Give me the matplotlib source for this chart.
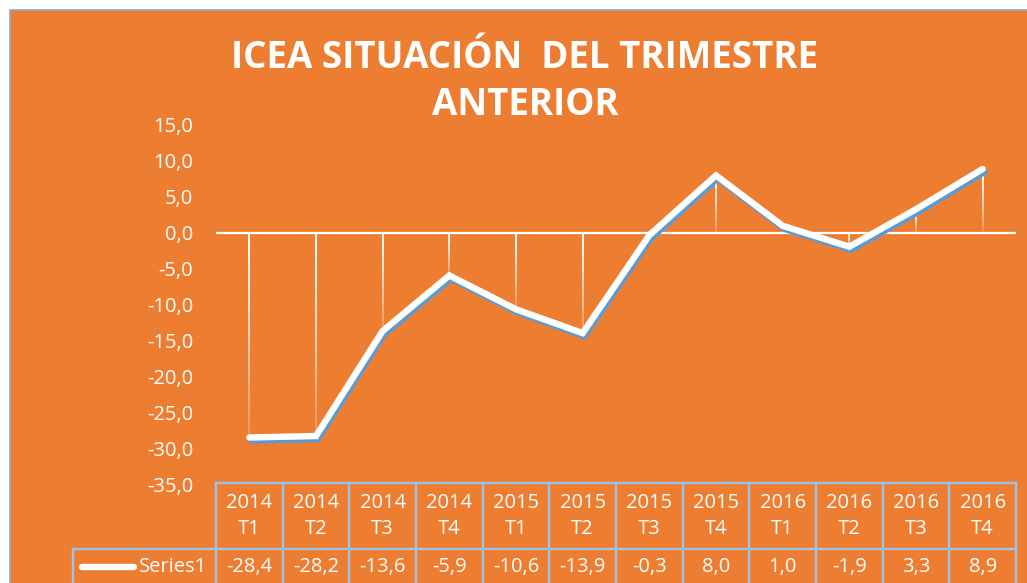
import matplotlib
matplotlib.use("Agg")
import matplotlib.pyplot as plt
import matplotlib.patheffects as pe
import matplotlib.transforms as mtransforms
from matplotlib.patches import Rectangle
from matplotlib.lines import Line2D
from matplotlib.collections import LineCollection
import numpy as np

# ---- data ----
years = ["2014", "2014", "2014", "2014", "2015", "2015", "2015", "2015",
         "2016", "2016", "2016", "2016"]
quarters = ["T1", "T2", "T3", "T4", "T1", "T2", "T3", "T4",
            "T1", "T2", "T3", "T4"]
values = [-28.4, -28.2, -13.6, -5.9, -10.6, -13.9, -0.3, 8.0, 1.0, -1.9, 3.3, 8.9]
series_name = "Series1"
title_lines = ["ICEA SITUACIÓN  DEL TRIMESTRE", "ANTERIOR"]
y_ticks = [-35, -30, -25, -20, -15, -10, -5, 0, 5, 10, 15]

ORANGE = "#ED7D31"
BLUE = "#5B9BD5"
GRID_BLUE = "#9DC3E6"
FONT = "Open Sans"

W, H = 1027, 583
fig = plt.figure(figsize=(W / 100, H / 100), dpi=100)
fig.patch.set_facecolor("white")

def fx(px):
    return px / W

def fy(py):
    return 1 - py / H

# chart area background
fig.add_artist(Rectangle((fx(10), -0.1), 1.2, fy(10) + 0.1, transform=fig.transFigure,
                         facecolor=ORANGE, edgecolor="#8FAACC", linewidth=1.2, zorder=0))

ax = fig.add_axes([fx(216), fy(485), fx(1016) - fx(216), fy(125) - fy(485)])
ax.set_facecolor("none")
for s in ax.spines.values():
    s.set_visible(False)
x = np.arange(len(values))
ax.set_xlim(-0.5, len(values) - 0.5)
ax.set_ylim(-35, 15)
ax.set_xticks([])
ax.set_yticks(y_ticks)
ax.set_yticklabels([f"{t:.1f}".replace(".", ",") for t in y_ticks],
                   fontsize=14.5, color="white", family=FONT)
ax.tick_params(axis="y", length=0, pad=16.5)

# zero line
ax.axhline(0, color="white", linewidth=1.6, zorder=2)

# drop lines with gradient (white at top fading downward)
segs, cols = [], []
N = 40
for xi, v in zip(x, values):
    top, bot = max(0, v), min(0, v)
    ys = np.linspace(top, bot, N + 1)
    for k in range(N):
        segs.append([(xi, ys[k]), (xi, ys[k + 1])])
        a = 1.0 - 0.85 * (k / N) ** 1.3
        cols.append((1, 1, 1, a))
ax.add_collection(LineCollection(segs, colors=cols, linewidths=1.4, zorder=2))

# main line with blue shadow
ax.plot(x, values, color="white", linewidth=4.6, solid_capstyle="round",
        solid_joinstyle="miter", zorder=4,
        path_effects=[pe.SimpleLineShadow(offset=(1.2, -2.2), shadow_color=BLUE, alpha=1.0),
                      pe.Normal()])

# title
for line, py in zip(title_lines, [58, 105]):
    fig.text(fx(525), fy(py), line, ha="center", va="center", color="white",
             fontsize=26.5, fontweight="bold", family=FONT)

# ---- data table ----
tr = mtransforms.blended_transform_factory(ax.transData, fig.transFigure)
tcol = GRID_BLUE
lw = 1.7
y_top, y_mid, y_bot = fy(483), fy(549), fy(620)
fig.add_artist(Line2D([-0.5, len(values) - 0.5], [y_top, y_top], transform=tr,
                      color=tcol, linewidth=lw, clip_on=False))
fig.add_artist(Line2D([fx(73), fx(1016)], [y_mid, y_mid], transform=fig.transFigure,
                      color=tcol, linewidth=lw, clip_on=False))
for i in range(len(values) + 1):
    fig.add_artist(Line2D([i - 0.5, i - 0.5], [y_top, y_bot], transform=tr,
                          color=tcol, linewidth=lw, clip_on=False))
fig.add_artist(Line2D([fx(73), fx(73)], [y_mid, y_bot], transform=fig.transFigure,
                      color=tcol, linewidth=lw, clip_on=False))

for xi, yr, q, v in zip(x, years, quarters, values):
    fig.text(xi, fy(516), f"{yr}\n{q}", transform=tr, ha="center", va="center",
             color="white", fontsize=14.5, family=FONT, linespacing=1.45)
    fig.text(xi, fy(567), f"{v:.1f}".replace(".", ","), transform=tr, ha="center",
             va="center", color="white", fontsize=14.5, family=FONT)

# legend key
fig.add_artist(Line2D([fx(82), fx(134)], [fy(567), fy(567)], transform=fig.transFigure,
                      color="white", linewidth=4.6, solid_capstyle="round"))
fig.text(fx(139), fy(567), series_name, ha="left", va="center", color="white",
         fontsize=14.5, family=FONT)

fig.savefig("out.png", dpi=100, facecolor=fig.get_facecolor())
